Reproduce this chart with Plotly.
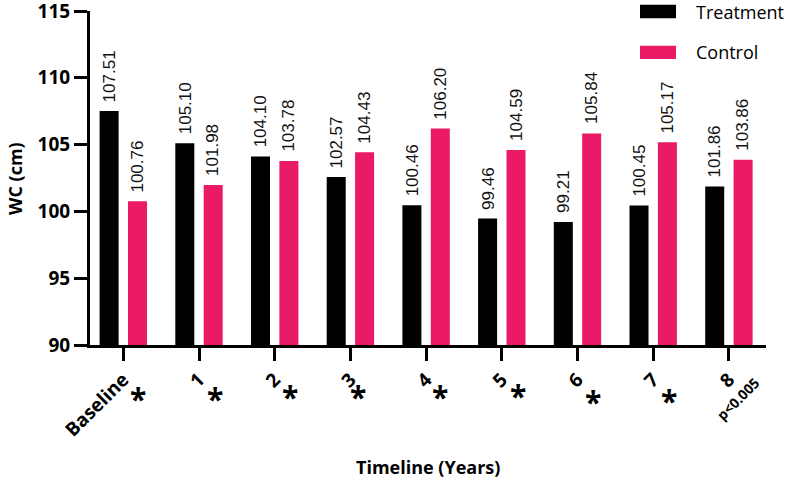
import plotly.graph_objects as go

# Data
timeline = ["Baseline", "1", "2", "3", "4", "5", "6", "7", "8"]
treatment = [107.51, 105.10, 104.10, 102.57, 100.46, 99.46, 99.21, 100.45, 101.86]
control = [100.76, 101.98, 103.78, 104.43, 106.20, 104.59, 105.84, 105.17, 103.86]
sig_marks = ["*", "*", "*", "*", "*", "*", "*", "*", ""]
p_note = "p<0.005"

black = "#000000"
pink = "#EA1A66"
bold_font = "Open Sans"
label_font = dict(family="Liberation Sans, Arial", size=17, color="#111111")

fig = go.Figure()

fig.add_trace(go.Bar(
    x=timeline, y=treatment, name="Treatment",
    marker=dict(color=black, line=dict(width=0)),
))
fig.add_trace(go.Bar(
    x=timeline, y=control, name="Control",
    marker=dict(color=pink, line=dict(width=0)),
))

# value labels, rotated, sitting on top of each bar
for series, shift in [(treatment, -14), (control, 14)]:
    for i, v in enumerate(series):
        fig.add_annotation(
            x=i, y=v, xref="x", yref="y", xshift=shift, yshift=7,
            text=f"{v:.2f}", textangle=-90, showarrow=False,
            xanchor="center", yanchor="bottom", font=label_font,
        )

# significance asterisks under the tick labels
star_y = [-0.16, -0.16, -0.155, -0.155, -0.155, -0.15, -0.17, -0.165, -0.16]
star_dx = [0.2, 0.21, 0.2, 0.1, 0.18, 0.21, 0.2, 0.21, 0.0]
for i, mark in enumerate(sig_marks):
    if mark:
        fig.add_annotation(
            x=i + star_dx[i], y=star_y[i], xref="x", yref="paper",
            text=mark, showarrow=False, yanchor="middle", xanchor="center",
            font=dict(family=bold_font, size=30, color=black, weight="bold"),
        )

fig.add_annotation(
    x=len(timeline) - 1 + 0.12, y=-0.159, xref="x", yref="paper",
    text=p_note, showarrow=False, textangle=-45,
    xanchor="center", yanchor="middle",
    font=dict(family=bold_font, size=14, color=black, weight="bold"),
)

# axis titles
fig.add_annotation(
    x=0.5, y=-0.365, xref="paper", yref="paper", text="Timeline (Years)",
    showarrow=False, xanchor="center", yanchor="middle",
    font=dict(family=bold_font, size=18, color=black, weight="bold"),
)
fig.add_annotation(
    x=-0.111, y=0.5, xref="paper", yref="paper", text="WC (cm)",
    showarrow=False, textangle=-90, xanchor="center", yanchor="middle",
    font=dict(family=bold_font, size=18, color=black, weight="bold"),
)

# legend drawn by hand (wide swatches)
legend_items = [("Treatment", black, 0.9985), ("Control", pink, 0.876)]
for label, col, yc in legend_items:
    fig.add_shape(
        type="rect", xref="paper", yref="paper",
        x0=0.8136, x1=0.8669, y0=yc - 0.02, y1=yc + 0.02,
        fillcolor=col, line=dict(width=0),
    )
    fig.add_annotation(
        x=0.893, y=yc, xref="paper", yref="paper", text=label,
        showarrow=False, xanchor="left", yanchor="middle",
        font=dict(family="Open Sans", size=18, color=black),
    )

fig.update_layout(
    width=800, height=483,
    margin=dict(l=90, r=34, t=11, b=138),
    paper_bgcolor="white", plot_bgcolor="white",
    barmode="group", bargap=0.25, bargroupgap=0.33,
    showlegend=False,
    font=dict(family=bold_font, color=black),
)

fig.update_xaxes(
    type="category", range=[-0.44, 8.49], automargin=False,
    showline=True, linecolor=black, linewidth=3,
    ticks="outside", ticklen=13, tickwidth=3, tickcolor=black,
    tickangle=-45,
    tickfont=dict(family=bold_font, size=19, color=black, weight="bold"),
    showgrid=False, zeroline=False,
)
fig.update_yaxes(
    range=[90, 115], dtick=5, automargin=False, ticklabeloverflow="allow",
    showline=True, linecolor=black, linewidth=3,
    ticks="outside", ticklen=13, tickwidth=3, tickcolor=black,
    tickfont=dict(family=bold_font, size=19, color=black, weight="bold"),
    showgrid=False, zeroline=False,
)

# page body margin would shift the 800x483 figure, drop it
fig.write_html(
    "out.html",
    config={"displayModeBar": False},
    post_script="document.body.style.margin = '0';",
)
